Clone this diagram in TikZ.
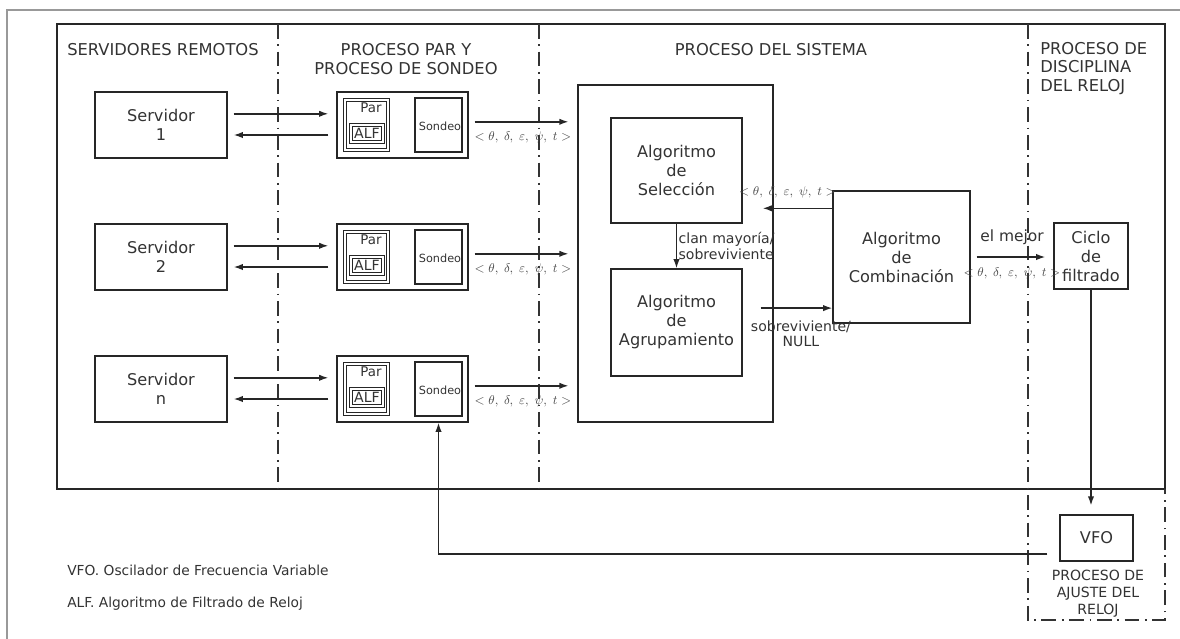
\documentclass[tikz,border=0pt]{standalone}
\usepackage{fontspec}
\setmainfont{DejaVu Sans}
\usetikzlibrary{positioning,arrows.meta}

\begin{document}
\begin{tikzpicture}[
    x=0.025cm, y=-0.025cm,
    every node/.style={font=\fontsize{11.5}{13.5}\selectfont, align=center,
                       text=black!80, inner sep=0pt},
    dims/.style 2 args={minimum width=#1*0.025cm, minimum height=#2*0.025cm},
    box/.style={rectangle, draw=black!85, line width=1pt},
    dbox/.style={rectangle, draw=black!85, line width=0.8pt,
                 double, double distance=1.9pt},
    header/.style={font=\fontsize{11.6}{13.1}\selectfont},
    note/.style={font=\fontsize{9.8}{12}\selectfont, anchor=west},
    tag/.style={font=\fontsize{10}{11}\selectfont},
    tuple/.style={font=\fontsize{9.5}{10}\selectfont, text=black!70},
    lane/.style={draw=black!80, line width=0.9pt,
                 dash pattern=on 10.5pt off 4pt on 1.2pt off 4pt},
    flow/.style={->, draw=black!85, line width=1pt},
    >={Latex[length=6.5pt, width=4.5pt]},
]
\useasboundingbox (0,0) rectangle (1180,639);

% ---------- Frames and lanes ----------
\draw[gray!80, line width=1.4pt] (7,645) -- (7,10) -- (1185,10);
\draw[black!85, line width=1pt] (57,24) rectangle (1165,489);
\draw[lane] (278,24) -- (278,489);
\draw[lane] (539,24) -- (539,489);
\draw[lane] (1028,24) -- (1028,620) -- (1165,620) -- (1165,489);

% ---------- Lane headers ----------
\node[header, anchor=west] (hsrv) at (67,50) {SERVIDORES REMOTOS};
\node[header] (hpar) at (406,59) {PROCESO PAR Y\\PROCESO DE SONDEO};
\node[header] (hsys) at (771,50) {PROCESO DEL SISTEMA};
\node[header, anchor=west, align=left] (hdisc) at (1040,68.5)
    {PROCESO DE\\DISCIPLINA\\DEL RELOJ};

% ---------- System process ----------
\node[box, dims={195}{337}] (sys) at (675.5,253.5) {};
\node[box, dims={131}{105}] (sel) at (676.5,170.5) {Algoritmo\\de\\Selección};
\node[box, dims={131}{107}] (agr) at (676.5,322.5) {Algoritmo\\de\\Agrupamiento};
\node[box, dims={137}{132}] (comb) at (901.5,257) {Algoritmo\\de\\Combinación};

% ---------- Clock discipline ----------
\node[box, dims={74}{66}] (ciclo) at (1091,256) {Ciclo\\de\\filtrado};
\node[box, dims={73}{46}] (vfo) at (1096.5,538) {VFO};
\node[font=\fontsize{10}{12}\selectfont] (hajuste) at (1098,594)
    {PROCESO DE\\AJUSTE DEL\\RELOJ};

% ---------- Servers and peer/poll processes ----------
\foreach \idx/\cy in {1/125, 2/257, n/389} {
    \node[box, dims={132}{66}] (srv\idx) at (161,\cy) {Servidor\\\idx};
    \node[box, dims={131}{66}] (pp\idx) at (402.5,\cy) {};
    \node[dbox, dims={43}{50}] (par\idx) at (366.5,\cy) {};
    \node[font=\fontsize{9.5}{10}\selectfont] (partxt\idx) at (371,\cy-17) {Par};
    \node[dbox, double distance=1.2pt, dims={32}{17},
          font=\fontsize{10}{10}\selectfont] (alf\idx) at (367,\cy+8.5) {ALF};
    \node[box, dims={47}{54}] (sond\idx) at (438.5,\cy) {};
    \node[font=\fontsize{8}{8}\selectfont] (sondtxt\idx) at (440,\cy+1) {Sondeo};
    \draw[flow, shorten <=0.15cm, shorten >=0.2cm]
        ([yshift=0.28cm]srv\idx.east) -- ([yshift=0.28cm]srv\idx.east -| pp\idx.west);
    \draw[flow, shorten <=0.2cm, shorten >=0.15cm]
        ([yshift=-0.25cm]pp\idx.west) -- ([yshift=-0.25cm]pp\idx.west -| srv\idx.east);
    \draw[flow, shorten <=0.15cm, shorten >=0.22cm]
        ([yshift=0.08cm]pp\idx.east) --
        node[tuple, below=0.22cm] {$<\theta,\;\delta,\;\varepsilon,\;\psi,\;t>$}
        ([yshift=0.08cm]pp\idx.east -| sys.west);
}

% ---------- Edges ----------
\draw[flow] (sel) -- node[tag, right=1pt, align=left]
    {clan mayoría/\\sobreviviente} (agr);
\draw[flow, shorten >=0.5cm] ([yshift=-0.45cm]comb.north west) --
    node[tuple, above=0.25cm] {$<\theta,\;\delta,\;\varepsilon,\;\psi,\;t>$}
    ([yshift=-0.45cm]comb.north west -| sel.east);
\draw[flow, shorten <=0.45cm] ([yshift=0.36cm]agr.east) --
    node[tag, pos=0.65, below=0.3cm] {sobreviviente/\\NULL}
    ([yshift=0.36cm]agr.east -| comb.west);
\draw[flow, shorten <=0.15cm, shorten >=0.2cm] (comb.east) --
    node[tag, font=\fontsize{11}{12}\selectfont, above=0.28cm] {el mejor}
    node[tuple, below=0.25cm] {$<\theta,\;\delta,\;\varepsilon,\;\psi,\;t>$}
    (comb.east -| ciclo.west);
\draw[flow, shorten >=0.22cm] (ciclo.south) -- (ciclo.south |- vfo.north);
\draw[flow, shorten <=0.3cm] ([yshift=-0.4cm]vfo.west) -| (sondn.south |- ppn.south);

% ---------- Footnotes ----------
\node[note] (nvfo) at (67,570) {VFO. Oscilador de Frecuencia Variable};
\node[note] (nalf) at (67,604) {ALF. Algoritmo de Filtrado de Reloj};

\end{tikzpicture}
\end{document}
